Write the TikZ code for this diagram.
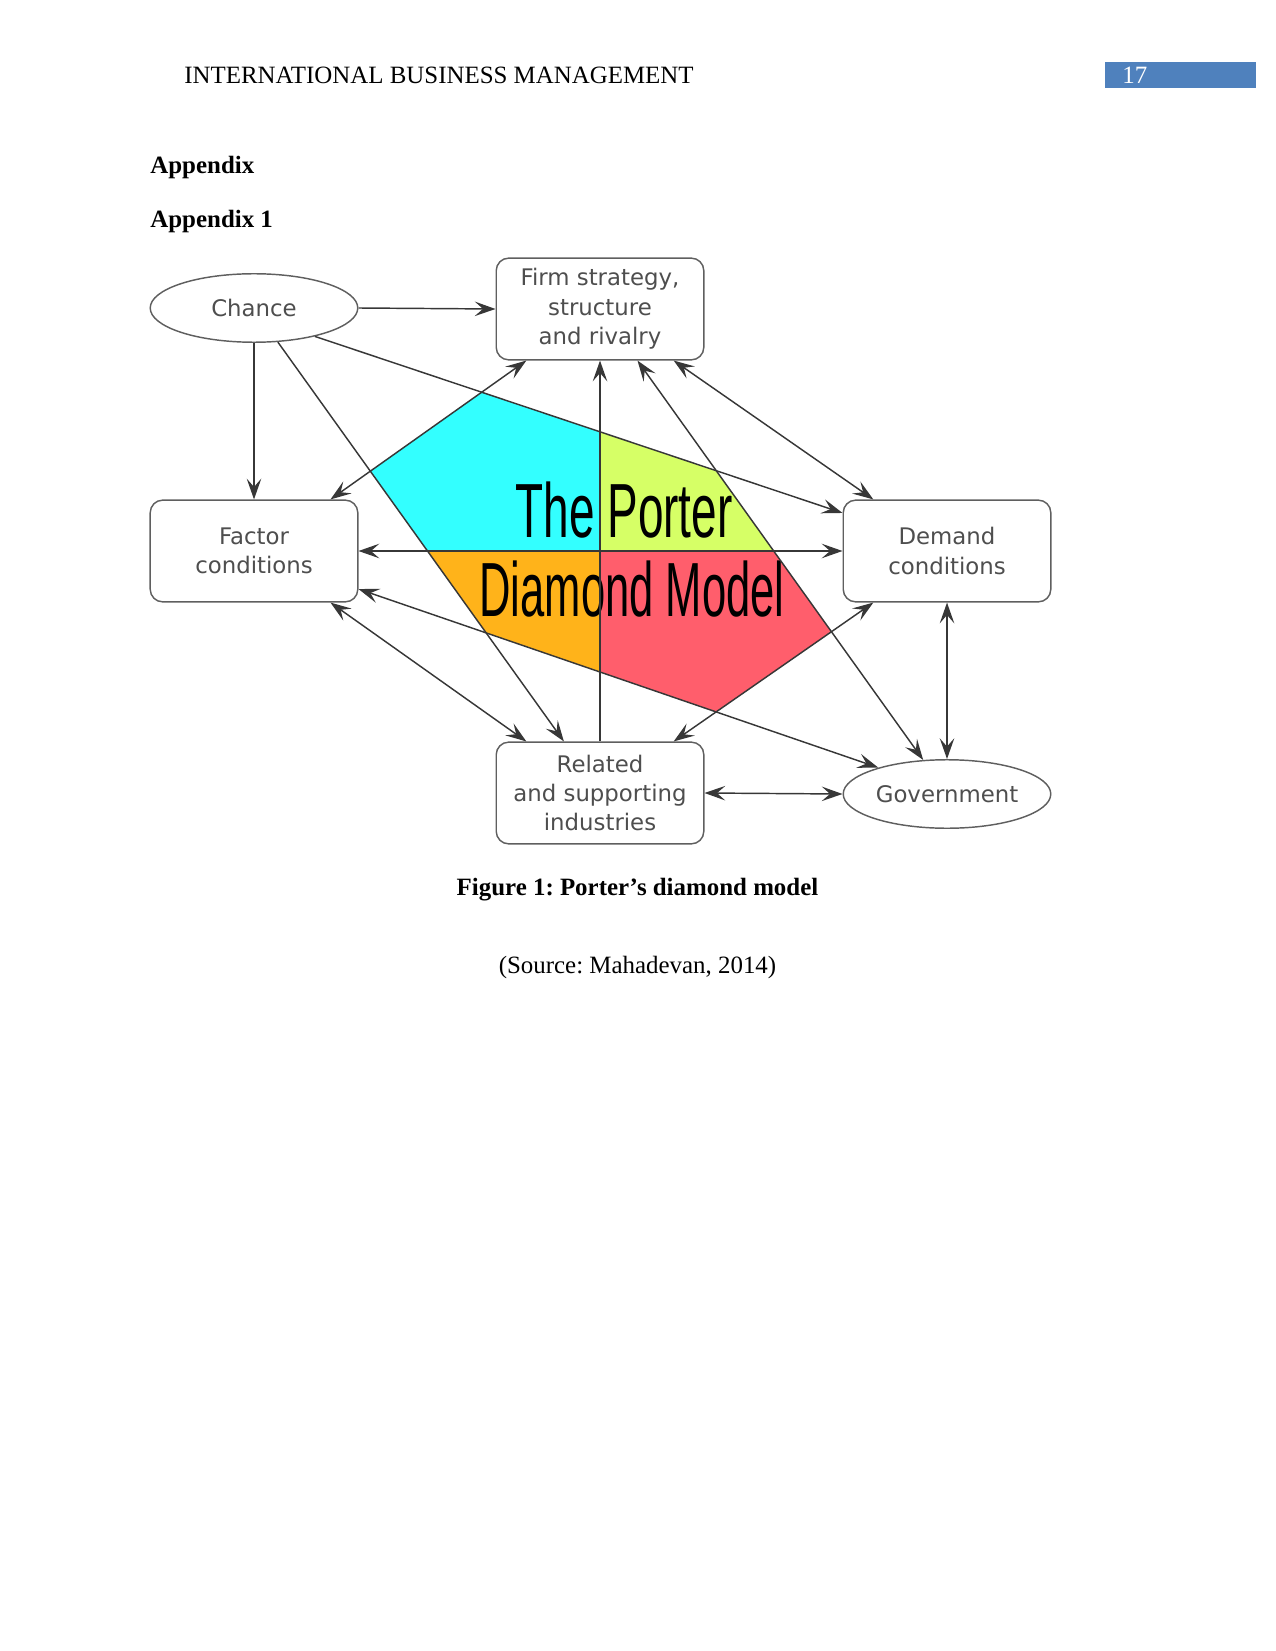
\documentclass[12pt,tikz,border=0pt]{standalone}
\usepackage{fontspec}
\setmainfont{Liberation Serif}
\newfontfamily\diagfont{DejaVu Sans}
\newfontfamily\titlefont{Liberation Sans}
\usepackage{graphicx}
\usepackage{tikz}
\usetikzlibrary{arrows.meta,shapes.geometric}
\definecolor{pageblue}{RGB}{79,129,189}
\definecolor{labelgray}{RGB}{78,78,78}
\definecolor{framegray}{RGB}{95,95,95}
\definecolor{linkgray}{RGB}{55,55,55}
\definecolor{cyanq}{RGB}{51,255,255}
\definecolor{limeq}{RGB}{214,255,102}
\definecolor{orangeq}{RGB}{255,179,26}
\definecolor{roseq}{RGB}{255,94,108}
\frenchspacing
\begin{document}
\begin{tikzpicture}[x=0.4818pt, y=-0.4818pt,
    >={Stealth[length=10pt, width=7pt, inset=4pt]},
    label/.style={font=\diagfont\fontsize{11}{14.2}\selectfont, text=labelgray, align=center},
    box/.style={label, rectangle, rounded corners=6pt, draw=framegray, line width=0.7pt,
        minimum width=100pt, minimum height=49pt, inner sep=0pt},
    oval/.style={label, ellipse, draw=framegray, line width=0.7pt,
        minimum width=100pt, minimum height=33pt, inner sep=0pt},
    link/.style={draw=linkgray, line width=0.7pt, ->},
    both/.style={draw=linkgray, line width=0.7pt, <->},
    titletext/.style={font=\titlefont\fontsize{37}{37}\selectfont, inner sep=0pt, anchor=base},
]
    \useasboundingbox (0,0) rectangle (1275,1651);

    % page text
    \node[anchor=base west, inner sep=0pt] (header) at (184,84) {INTERNATIONAL BUSINESS MANAGEMENT};
    \fill[pageblue] (1105,62) rectangle (1256,88);
    \node[anchor=base west, inner sep=0pt, text=white] (pageno) at (1122,84) {17};
    \node[anchor=base west, inner sep=0pt, font=\bfseries] (app) at (150,174) {Appendix};
    \node[anchor=base west, inner sep=0pt, font=\bfseries] (app1) at (150,228) {Appendix 1};
    \node[anchor=base, inner sep=0pt, font=\bfseries] (caption) at (637.5,895) {Figure 1: Porter’s diamond model};
    \node[anchor=base, inner sep=0pt] (source) at (637.5,973) {(Source: Mahadevan, 2014)};

    % determinants
    \node[oval] (chance) at (254,308) {Chance};
    \node[box] (firm) at (600,309) {Firm strategy,\\structure\\and rivalry};
    \node[box] (factor) at (254,551) {Factor\\conditions};
    \node[box] (demand) at (947,551) {Demand\\conditions};
    \node[box] (related) at (600,793) {Related\\and supporting\\industries};
    \node[oval] (gov) at (947,794) {Government};

    \coordinate (chanceSE) at (chance.-25);
    \coordinate (demandNW) at (demand.160);
    \coordinate (factorSE) at (factor.-20);
    \coordinate (govNW) at (gov.159);
    \coordinate (factorNE) at (factor.34);
    \coordinate (firmSW) at (firm.215);
    \coordinate (relatedNE) at (related.35);
    \coordinate (demandSW) at (demand.215);
    \coordinate (chanceS) at (chance.-55);
    \coordinate (relatedNW) at (related.125);
    \coordinate (firmSE) at (firm.-54);
    \coordinate (govN) at (gov.125);
    \coordinate (mid) at (600,551);

    % coloured diamond
    \coordinate (hexT) at (intersection of chanceSE--demandNW and factorNE--firmSW);
    \coordinate (hexTR) at (intersection of chanceSE--demandNW and firmSE--govN);
    \coordinate (hexBR) at (intersection of firmSE--govN and relatedNE--demandSW);
    \coordinate (hexB) at (intersection of relatedNE--demandSW and factorSE--govNW);
    \coordinate (hexBL) at (intersection of factorSE--govNW and chanceS--relatedNW);
    \coordinate (hexTL) at (intersection of chanceS--relatedNW and factorNE--firmSW);
    \begin{scope}
        \clip (hexT) -- (hexTR) -- (hexBR) -- (hexB) -- (hexBL) -- (hexTL) -- cycle;
        \fill[cyanq] (mid) rectangle (300,300);
        \fill[limeq] (mid) rectangle (900,300);
        \fill[orangeq] (mid) rectangle (300,800);
        \fill[roseq] (mid) rectangle (900,800);
    \end{scope}
    \node[titletext] (title1) at (624,537) {\scalebox{0.598}[1]{The Porter}};
    \node[titletext] (title2) at (632,616) {\scalebox{0.567}[1]{Diamond Model}};

    % influences
    \draw[link] (chance.east) -- (firm.west);
    \draw[link] (chance.south) -- (factor.north);
    \draw[link] (chanceS) -- (relatedNW);
    \draw[link] (chanceSE) -- (demandNW);
    \draw[link] (related.north) -- (firm.south);
    \draw[both] (factorNE) -- (firmSW);
    \draw[both] (firm.-35) -- (demand.145);
    \draw[both] (factor.-34) -- (related.145);
    \draw[both] (relatedNE) -- (demandSW);
    \draw[both] (factor.east) -- (demand.west);
    \draw[both] (factorSE) -- (govNW);
    \draw[both] (firmSE) -- (govN);
    \draw[both] (demand.south) -- (gov.north);
    \draw[both] (related.east) -- (gov.west);
\end{tikzpicture}
\end{document}
